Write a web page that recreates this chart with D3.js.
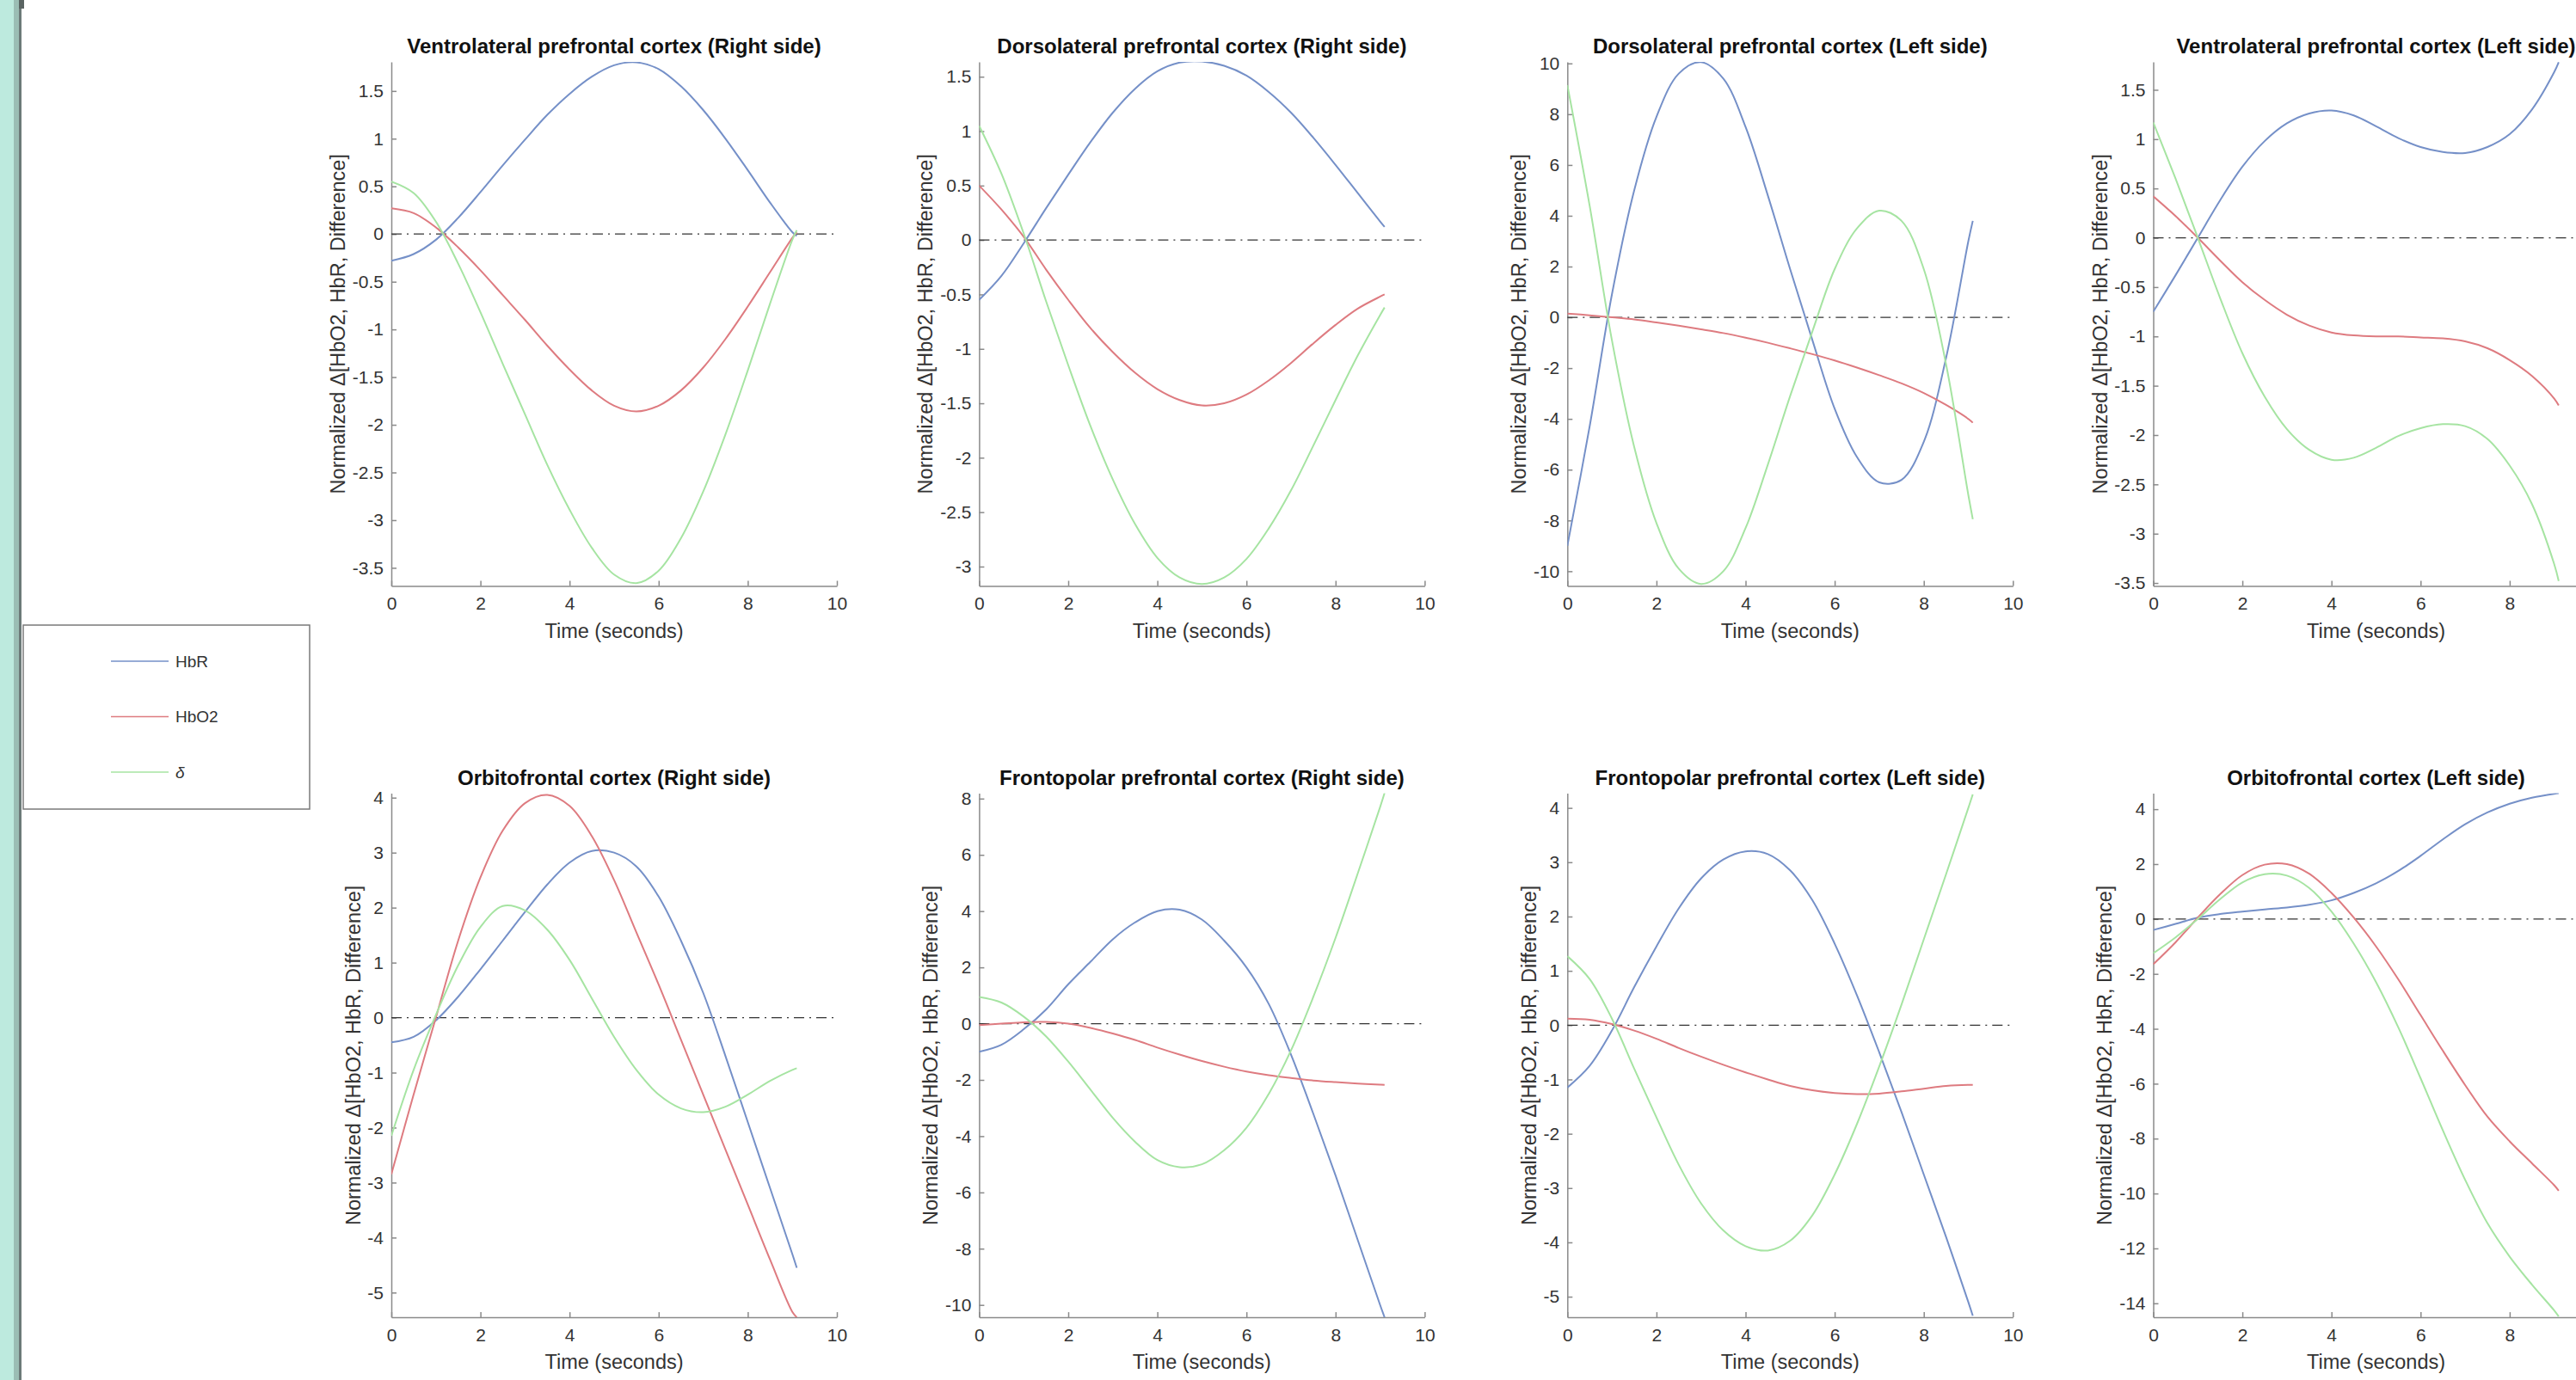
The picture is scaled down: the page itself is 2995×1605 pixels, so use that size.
<!DOCTYPE html>
<html lang="en">
<head>
<meta charset="utf-8" />
<style>
  body { margin: 0; background: #fff; overflow: hidden; }
  svg text { font-family: "Liberation Sans", Arial, Helvetica, sans-serif; }
</style>
</head>
<body>
<div id="chart"></div>
<script src="https://cdnjs.cloudflare.com/ajax/libs/d3/7.8.5/d3.min.js"></script>
<script>
// sample times (seconds)
const times = [0, 0.5, 1, 1.5, 2, 2.5, 3, 3.5, 4, 4.5, 5, 5.5, 6, 6.5, 7, 7.5, 8, 8.5, 9, 9.1];
const xTicks = [0, 2, 4, 6, 8, 10];

const titles = [
  "Ventrolateral prefrontal cortex (Right side)",
  "Dorsolateral prefrontal cortex (Right side)",
  "Dorsolateral prefrontal cortex (Left side)",
  "Ventrolateral prefrontal cortex (Left side)",
  "Orbitofrontal cortex (Right side)",
  "Frontopolar prefrontal cortex (Right side)",
  "Frontopolar prefrontal cortex (Left side)",
  "Orbitofrontal cortex (Left side)"
];

// y limits of each panel
const yLimits = [
  [-3.69, 1.805], [-3.178, 1.636], [-10.58, 10.06], [-3.53, 1.783],
  [-5.45, 4.08], [-10.44, 8.19], [-5.38, 4.27], [-14.51, 4.58]
];

const yTickSets = [
  [-3.5, -3, -2.5, -2, -1.5, -1, -0.5, 0, 0.5, 1, 1.5],
  [-3, -2.5, -2, -1.5, -1, -0.5, 0, 0.5, 1, 1.5],
  [-10, -8, -6, -4, -2, 0, 2, 4, 6, 8, 10],
  [-3.5, -3, -2.5, -2, -1.5, -1, -0.5, 0, 0.5, 1, 1.5],
  [-5, -4, -3, -2, -1, 0, 1, 2, 3, 4],
  [-10, -8, -6, -4, -2, 0, 2, 4, 6, 8],
  [-5, -4, -3, -2, -1, 0, 1, 2, 3, 4],
  [-14, -12, -10, -8, -6, -4, -2, 0, 2, 4]
];

// HbR (blue)
const hbr1 = [-0.28, -0.21, -0.06, 0.17, 0.44, 0.72, 0.99, 1.25, 1.47, 1.65, 1.77, 1.80, 1.73, 1.55, 1.30, 1.00, 0.67, 0.33, 0.02, -0.02];
const hbr2 = [-0.55, -0.33, -0.03, 0.29, 0.60, 0.90, 1.17, 1.39, 1.55, 1.63, 1.64, 1.60, 1.51, 1.36, 1.17, 0.94, 0.69, 0.43, 0.17, 0.12];
const hbr3 = [-9.0, -4.3, 0.9, 5.0, 7.9, 9.6, 10.05, 9.4, 7.5, 4.8, 1.9, -0.9, -3.6, -5.5, -6.5, -6.4, -4.9, -1.6, 3.0, 3.8];
const hbr4 = [-0.75, -0.38, 0.0, 0.38, 0.72, 0.98, 1.16, 1.26, 1.29, 1.24, 1.13, 1.01, 0.92, 0.87, 0.86, 0.92, 1.05, 1.30, 1.68, 1.78];
const hbr5 = [-0.45, -0.35, -0.05, 0.38, 0.88, 1.40, 1.92, 2.42, 2.82, 3.03, 3.00, 2.75, 2.20, 1.40, 0.45, -0.70, -1.90, -3.10, -4.30, -4.55];
const hbr6 = [-1.0, -0.75, -0.2, 0.5, 1.4, 2.2, 3.0, 3.6, 4.0, 4.05, 3.7, 2.95, 2.0, 0.7, -1.1, -3.2, -5.4, -7.7, -10.0, -10.44];
const hbr7 = [-1.15, -0.75, -0.1, 0.7, 1.45, 2.15, 2.7, 3.05, 3.2, 3.15, 2.85, 2.3, 1.5, 0.55, -0.5, -1.6, -2.75, -3.9, -5.1, -5.35];
const hbr8 = [-0.4, -0.18, 0.05, 0.18, 0.27, 0.35, 0.42, 0.52, 0.68, 0.95, 1.3, 1.75, 2.3, 2.9, 3.45, 3.88, 4.2, 4.42, 4.56, 4.58];

// HbO2 (red)
const hbo1 = [0.27, 0.22, 0.07, -0.14, -0.38, -0.64, -0.90, -1.17, -1.42, -1.64, -1.80, -1.86, -1.80, -1.64, -1.40, -1.10, -0.76, -0.40, -0.04, 0.02];
const hbo2 = [0.50, 0.28, 0.03, -0.27, -0.55, -0.81, -1.03, -1.22, -1.37, -1.47, -1.52, -1.50, -1.42, -1.29, -1.13, -0.95, -0.78, -0.63, -0.52, -0.50];
const hbo3 = [0.15, 0.08, 0.0, -0.08, -0.2, -0.33, -0.47, -0.62, -0.8, -1.0, -1.22, -1.45, -1.7, -1.98, -2.28, -2.6, -2.98, -3.45, -4.0, -4.15];
const hbo4 = [0.42, 0.22, 0.0, -0.23, -0.45, -0.63, -0.78, -0.89, -0.96, -0.99, -1.0, -1.0, -1.01, -1.02, -1.05, -1.12, -1.24, -1.4, -1.63, -1.70];
const hbo5 = [-2.85, -1.4, 0.0, 1.4, 2.55, 3.4, 3.9, 4.05, 3.85, 3.3, 2.5, 1.55, 0.6, -0.4, -1.4, -2.4, -3.4, -4.4, -5.35, -5.45];
const hbo6 = [-0.05, 0.0, 0.05, 0.06, 0.0, -0.15, -0.35, -0.58, -0.85, -1.1, -1.33, -1.53, -1.7, -1.83, -1.93, -2.02, -2.08, -2.13, -2.17, -2.18];
const hbo7 = [0.12, 0.1, 0.02, -0.1, -0.25, -0.42, -0.58, -0.73, -0.87, -1.0, -1.12, -1.2, -1.25, -1.27, -1.26, -1.22, -1.17, -1.12, -1.1, -1.1];
const hbo8 = [-1.65, -0.85, 0.05, 0.9, 1.6, 1.98, 2.0, 1.65, 0.95, 0.05, -1.0, -2.2, -3.5, -4.8, -6.05, -7.2, -8.1, -8.9, -9.7, -9.9];

// delta (green)
const dlt1 = [0.55, 0.43, 0.13, -0.31, -0.82, -1.36, -1.89, -2.42, -2.89, -3.29, -3.57, -3.66, -3.53, -3.19, -2.70, -2.10, -1.43, -0.73, -0.06, 0.04];
const dlt2 = [1.05, 0.61, 0.06, -0.56, -1.15, -1.71, -2.20, -2.61, -2.92, -3.10, -3.16, -3.10, -2.93, -2.65, -2.30, -1.89, -1.47, -1.06, -0.69, -0.62];
const dlt3 = [9.15, 4.4, -0.9, -5.1, -8.1, -9.9, -10.5, -10.0, -8.3, -5.8, -3.1, -0.55, 1.9, 3.5, 4.2, 3.8, 1.9, -1.85, -7.0, -7.95];
const dlt4 = [1.17, 0.60, 0.0, -0.61, -1.17, -1.61, -1.94, -2.15, -2.25, -2.23, -2.13, -2.01, -1.93, -1.89, -1.91, -2.04, -2.31, -2.70, -3.31, -3.48];
const dlt5 = [-2.15, -0.95, 0.05, 0.95, 1.65, 2.03, 1.95, 1.6, 1.05, 0.35, -0.35, -0.95, -1.4, -1.65, -1.72, -1.62, -1.4, -1.15, -0.95, -0.92];
const dlt6 = [0.95, 0.75, 0.25, -0.45, -1.35, -2.35, -3.35, -4.2, -4.85, -5.1, -5.0, -4.5, -3.7, -2.5, -0.95, 0.95, 3.05, 5.35, 7.7, 8.2];
const dlt7 = [1.27, 0.85, 0.12, -0.8, -1.7, -2.57, -3.28, -3.78, -4.07, -4.15, -3.97, -3.5, -2.75, -1.82, -0.76, 0.38, 1.58, 2.78, 4.0, 4.25];
const dlt8 = [-1.25, -0.67, 0.0, 0.72, 1.33, 1.63, 1.58, 1.13, 0.27, -0.9, -2.3, -3.95, -5.8, -7.7, -9.5, -11.08, -12.3, -13.32, -14.26, -14.48];

const hbrSeries = [hbr1, hbr2, hbr3, hbr4, hbr5, hbr6, hbr7, hbr8];
const hboSeries = [hbo1, hbo2, hbo3, hbo4, hbo5, hbo6, hbo7, hbo8];
const dltSeries = [dlt1, dlt2, dlt3, dlt4, dlt5, dlt6, dlt7, dlt8];

const legendNames = ["HbR", "HbO2", "δ"];

const width = 2995;
const height = 1605;
const colors = ["#7590c8", "#de7b80", "#a6e4a2"];

// layout
const colLeft = [455, 1138.4, 1822.3, 2503.5];
const rowTop = [72, 922.6];
const plotW = 518;
const plotH = 609.5;

const svg = d3.select("#chart").append("svg")
  .attr("width", width)
  .attr("height", height);

// window strip on the left
svg.append("rect").attr("x", 0).attr("y", 0).attr("width", 16).attr("height", height).attr("fill", "#bdeade");
svg.append("rect").attr("x", 16).attr("y", 0).attr("width", 6).attr("height", height).attr("fill", "#9bbdb4");
svg.append("rect").attr("x", 22).attr("y", 0).attr("width", 3).attr("height", height).attr("fill", "#6c7a78");
svg.append("rect").attr("x", 22).attr("y", 0).attr("width", 6).attr("height", 10).attr("fill", "#5a6462");

const x = d3.scaleLinear().domain([0, 10]).range([0, plotW]);

const line = d3.line()
  .x((d, i) => x(times[i]))
  .curve(d3.curveCatmullRom.alpha(0.5));

titles.forEach((title, p) => {
  const row = Math.floor(p / 4);
  const col = p % 4;
  const g = svg.append("g")
    .attr("transform", `translate(${colLeft[col]},${rowTop[row]})`);

  const y = d3.scaleLinear().domain(yLimits[p]).range([plotH, 0]);

  g.append("clipPath").attr("id", "clip" + p)
    .append("rect").attr("x", 0).attr("y", 0).attr("width", plotW).attr("height", plotH);

  // ticks whose label would fall past the window edge are not shown
  const visibleX = xTicks.filter(t => colLeft[col] + x(t) + 14 < width);

  // axes
  const xAxis = g.append("g")
    .attr("transform", `translate(0,${plotH})`)
    .call(d3.axisBottom(x).tickValues(visibleX).tickSizeInner(-6).tickSizeOuter(0)
      .tickPadding(13).tickFormat(d => String(d)));

  const yAxis = g.append("g")
    .call(d3.axisLeft(y).tickValues(yTickSets[p]).tickSizeInner(-6).tickSizeOuter(0)
      .tickPadding(9).tickFormat(d => String(d)));

  [xAxis, yAxis].forEach(a => {
    a.select(".domain").attr("stroke", "#8a8a8a").attr("stroke-width", 1.5);
    a.selectAll(".tick line").attr("stroke", "#8a8a8a").attr("stroke-width", 1.5);
    a.selectAll(".tick text").attr("font-size", 21).attr("fill", "#333");
  });

  // zero reference line
  g.append("line")
    .attr("x1", x(0)).attr("x2", x(10))
    .attr("y1", y(0)).attr("y2", y(0))
    .attr("stroke", "#333")
    .attr("stroke-width", 1.3)
    .attr("stroke-dasharray", "12,6,2,6");

  const plot = g.append("g").attr("clip-path", `url(#clip${p})`);
  [hbrSeries[p], hboSeries[p], dltSeries[p]].forEach((vals, s) => {
    plot.append("path")
      .datum(vals)
      .attr("fill", "none")
      .attr("stroke", colors[s])
      .attr("stroke-width", 2)
      .attr("d", line.y(d => y(d)));
  });

  // title
  g.append("text")
    .attr("x", plotW / 2)
    .attr("y", -10)
    .attr("text-anchor", "middle")
    .attr("font-size", 24)
    .attr("font-weight", "bold")
    .attr("fill", "#111")
    .text(title);

  // x label
  g.append("text")
    .attr("x", plotW / 2)
    .attr("y", plotH + 60)
    .attr("text-anchor", "middle")
    .attr("font-size", 23.5)
    .attr("fill", "#333")
    .text("Time (seconds)");

  // y label, placed left of the widest tick label
  const maxW = d3.max(yAxis.selectAll(".tick text").nodes(), n => n.getComputedTextLength());
  const lx = -(9 + maxW + 17);
  g.append("text")
    .attr("transform", `translate(${lx},${plotH / 2}) rotate(-90)`)
    .attr("text-anchor", "middle")
    .attr("dy", "0.35em")
    .attr("font-size", 23.5)
    .attr("fill", "#333")
    .text("Normalized Δ[HbO2, HbR, Difference]");
});

// legend
const legend = svg.append("g");
legend.append("rect")
  .attr("x", 27).attr("y", 727)
  .attr("width", 333).attr("height", 214)
  .attr("fill", "#fff")
  .attr("stroke", "#7a7a7a")
  .attr("stroke-width", 1.5);

const legendY = d3.scalePoint().domain(legendNames).range([769, 898]);
legendNames.forEach((name, i) => {
  legend.append("line")
    .attr("x1", 129).attr("x2", 196)
    .attr("y1", legendY(name)).attr("y2", legendY(name))
    .attr("stroke", colors[i])
    .attr("stroke-width", 1.5);
  legend.append("text")
    .attr("x", 204)
    .attr("y", legendY(name))
    .attr("dy", "0.35em")
    .attr("font-size", 19)
    .attr("font-style", i === 2 ? "italic" : "normal")
    .attr("fill", "#333")
    .text(name);
});
</script>
</body>
</html>
